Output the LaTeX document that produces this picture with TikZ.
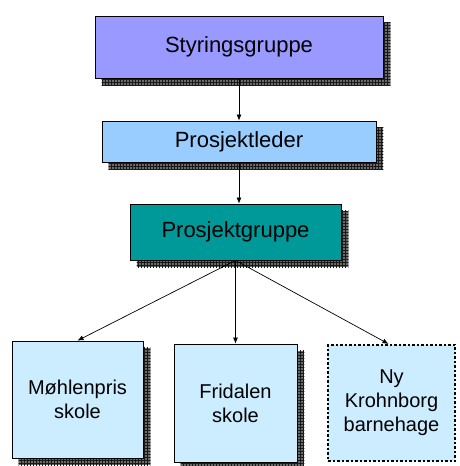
\documentclass[tikz,border=0pt]{standalone}
\usepackage{fontspec}
\setmainfont{Liberation Sans}
\usepackage{xcolor}
\usetikzlibrary{patterns}
\usetikzlibrary{backgrounds}
\usetikzlibrary{arrows.meta}
\definecolor{styrcol}{RGB}{153,153,255}
\definecolor{ledercol}{RGB}{153,204,255}
\definecolor{gruppecol}{RGB}{0,153,153}
\definecolor{skolecol}{RGB}{204,236,255}

\begin{document}
\begin{tikzpicture}[
			     x=1pt, y=-1pt,
			     >={Latex[length=6pt,width=5pt]},
			     box/.style={draw=black, line width=0.8pt, inner sep=2pt, align=center},
			     top box/.style={box, font=\fontsize{22}{26}\selectfont},
			     school box/.style={box, fill=skolecol, font=\fontsize{20}{24}\selectfont},
			     shadow box/.style={fill=black!58, postaction={pattern=grid, pattern color=black!90}},
			     normal line/.style={->, line width=0.7pt}
			     ] 
\useasboundingbox (0,0) rectangle (460,466);
\node[top box, fill=styrcol, minimum width=288pt, minimum height=62pt] (styr) at (239,47) {Styringsgruppe};
\node[top box, fill=ledercol, minimum width=274pt, minimum height=41pt] (leder) at (239,141.5) {Prosjektleder};
\node[top box, fill=gruppecol, minimum width=211pt, minimum height=56pt] (gruppe) at (235.5,232) {Prosjektgruppe};
\node[school box, minimum width=131pt, minimum height=117pt] (mohlen) at (77.5,399.5) {Møhlenpris\\skole};
\node[school box, minimum width=123pt, minimum height=118pt] (fridal) at (235.5,403) {Fridalen\\skole};
\node[school box, minimum width=127pt, minimum height=116pt, line width=2.2pt,
      dash pattern=on 2.5pt off 2pt] (krohn) at (391.5,403) {Ny\\Krohnborg\\barnehage};
%
\begin{scope}[on background layer]
\foreach \n in {styr,leder,gruppe,mohlen,fridal}
  \path[shadow box] ([shift={(7,7)}]\n.north west) rectangle ([shift={(7,7)}]\n.south east);
\end{scope}
%
\path (styr) edge[normal line] (leder);
\path (leder.south) edge[normal line] (leder.south |- gruppe.north);
\path (gruppe.south) edge[normal line] (mohlen.north);
\path (gruppe.south) edge[normal line] (fridal.north);
\path (gruppe.south) edge[normal line] ([xshift=-3pt]krohn.north);
\end{tikzpicture}
\end{document}
